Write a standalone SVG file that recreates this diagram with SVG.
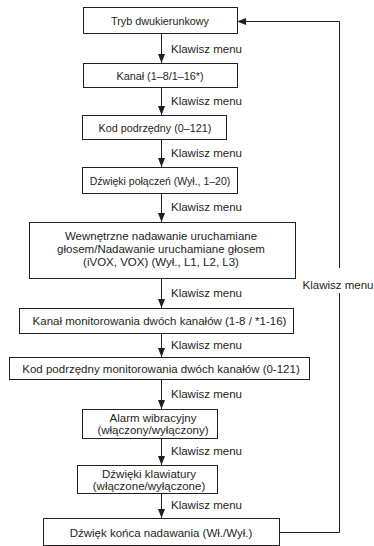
<svg xmlns="http://www.w3.org/2000/svg" width="374" height="546" viewBox="0 0 374 546">
<style>
.box{fill:#fff;stroke:#231f20;stroke-width:1}
.t{font-family:"Liberation Sans",Arial,sans-serif;font-size:11.5px;fill:#231f20;text-anchor:middle}
.s{font-size:10.8px}
.lbl{font-family:"Liberation Sans",Arial,sans-serif;font-size:11.5px;fill:#231f20}
.c{fill:none;stroke:#231f20;stroke-width:1}
</style>
<defs>
<marker id="ah" viewBox="0 0 9 7" refX="9" refY="3.5" markerWidth="9" markerHeight="7" markerUnits="userSpaceOnUse" orient="auto">
<path d="M0,0 L9,3.5 L0,7 z" fill="#231f20"/>
</marker>
</defs>
<rect width="374" height="546" fill="#fff"/>
<g id="connectors">
<line class="c" x1="161.5" y1="33" x2="161.5" y2="63" marker-end="url(#ah)"/>
<line class="c" x1="161.5" y1="87" x2="161.5" y2="115" marker-end="url(#ah)"/>
<line class="c" x1="161.5" y1="139" x2="161.5" y2="167" marker-end="url(#ah)"/>
<line class="c" x1="161.5" y1="193" x2="161.5" y2="222" marker-end="url(#ah)"/>
<line class="c" x1="161.5" y1="278" x2="161.5" y2="308" marker-end="url(#ah)"/>
<line class="c" x1="161.5" y1="333" x2="161.5" y2="357" marker-end="url(#ah)"/>
<line class="c" x1="161.5" y1="379" x2="161.5" y2="409" marker-end="url(#ah)"/>
<line class="c" x1="161.5" y1="438" x2="161.5" y2="465" marker-end="url(#ah)"/>
<line class="c" x1="161.5" y1="493" x2="161.5" y2="518" marker-end="url(#ah)"/>
<path class="c" d="M279,532.5 H339.5 V293 M339.5,268 V21.5 H237" marker-end="url(#ah)"/>
<text class="lbl" x="171" y="53">Klawisz menu</text>
<text class="lbl" x="171" y="105">Klawisz menu</text>
<text class="lbl" x="171" y="157">Klawisz menu</text>
<text class="lbl" x="171" y="211">Klawisz menu</text>
<text class="lbl" x="171" y="297">Klawisz menu</text>
<text class="lbl" x="171" y="349">Klawisz menu</text>
<text class="lbl" x="171" y="398">Klawisz menu</text>
<text class="lbl" x="171" y="455">Klawisz menu</text>
<text class="lbl" x="171" y="509">Klawisz menu</text>
<text class="lbl" x="338" y="289" text-anchor="middle">Klawisz menu</text>
</g>
<g id="n1"><rect class="box" x="83.5" y="7.5" width="154" height="26"/><text class="t s" x="160" y="24.5">Tryb dwukierunkowy</text></g>
<g id="n2"><rect class="box" x="83.5" y="63.5" width="154" height="24"/><text class="t s" x="160" y="79.5">Kanał (1–8/1–16*)</text></g>
<g id="n3"><rect class="box" x="82.5" y="115.5" width="144" height="24"/><text class="t s" x="155" y="131.5">Kod podrzędny (0–121)</text></g>
<g id="n4"><rect class="box" x="82.5" y="167.5" width="155" height="26"/><text class="t" x="160" y="184.5" style="font-size:10.5px">Dźwięki połączeń (Wył., 1–20)</text></g>
<g id="n5"><rect class="box" x="29.5" y="222.5" width="266" height="56"/><text class="t" x="161" y="239.5">Wewnętrzne nadawanie uruchamiane</text><text class="t" x="161" y="252.5">głosem/Nadawanie uruchamiane głosem</text><text class="t" x="161" y="265.5">(iVOX, VOX) (Wył., L1, L2, L3)</text></g>
<g id="n6"><rect class="box" x="19.5" y="308.5" width="274" height="25"/><text class="t" x="159.5" y="325">Kanał monitorowania dwóch kanałów (1-8 / *1-16)</text></g>
<g id="n7"><rect class="box" x="9.5" y="357.5" width="300" height="22"/><text class="t" x="161" y="372.5">Kod podrzędny monitorowania dwóch kanałów (0-121)</text></g>
<g id="n8"><rect class="box" x="82.5" y="409.5" width="135" height="29"/><text class="t" x="153" y="421.5">Alarm wibracyjny</text><text class="t" x="153" y="434">(włączony/wyłączony)</text></g>
<g id="n9"><rect class="box" x="77.5" y="465.5" width="140" height="28"/><text class="t" x="149" y="477.5">Dźwięki klawiatury</text><text class="t" x="149" y="490">(włączone/wyłączone)</text></g>
<g id="n10"><rect class="box" x="43.5" y="518.5" width="236" height="27"/><text class="t" x="161" y="536.5">Dźwięk końca nadawania (Wł./Wył.)</text></g>
</svg>
